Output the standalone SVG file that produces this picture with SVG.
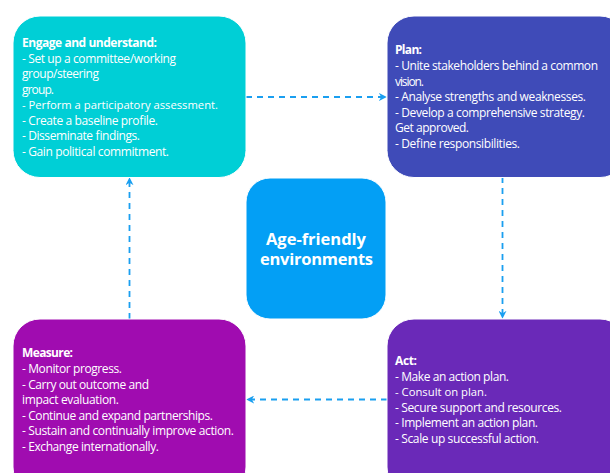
<svg xmlns="http://www.w3.org/2000/svg" width="610" height="473" viewBox="0 0 610 473">
  <defs>
    <style>
      .box { stroke: #ffffff; stroke-width: 1; }
      .txt { font-family: "Open Sans", "Noto Sans", "DejaVu Sans", sans-serif; font-size: 12px; fill: #ffffff; }
      .sm { font-size: 11px; }
      .ttl { font-weight: bold; }
      .ctr { font-family: "Open Sans", "Noto Sans", "DejaVu Sans", sans-serif; font-size: 16.5px; font-weight: bold; fill: #ffffff; }
      .link { fill: none; stroke: #1a9ff0; stroke-width: 1.8; stroke-dasharray: 6 5; }
    </style>
    <marker id="arrow" viewBox="0 0 10 10" refX="9" refY="5" markerWidth="8" markerHeight="8" markerUnits="userSpaceOnUse" orient="auto">
      <path d="M0,0 L10,5 L0,10 L3,5 Z" fill="#1a9ff0"/>
    </marker>
  </defs>

  <rect width="610" height="473" fill="#ffffff"/>

  <!-- connectors -->
  <g id="connectors">
    <line class="link" x1="246" y1="97" x2="386" y2="97" marker-end="url(#arrow)"/>
    <line class="link" x1="502.5" y1="177" x2="502.5" y2="318" marker-end="url(#arrow)"/>
    <line class="link" x1="387" y1="399.5" x2="247" y2="399.5" marker-end="url(#arrow)"/>
    <line class="link" x1="129.5" y1="319" x2="129.5" y2="178" marker-end="url(#arrow)"/>
  </g>

  <!-- Engage and understand -->
  <g id="engage">
    <rect class="box" x="13" y="16" width="233" height="161.5" rx="27" fill="#00cfd6"/>
    <text class="txt ttl" x="22" y="47" textLength="135">Engage and understand:</text>
    <text class="txt" x="22" y="62.5" textLength="154">- Set up a committee/working</text>
    <text class="txt" x="22" y="78" textLength="77">group/steering</text>
    <text class="txt" x="22" y="93.5" textLength="32">group.</text>
    <text class="txt sm" x="22" y="109" textLength="196" lengthAdjust="spacingAndGlyphs">- Perform a participatory assessment.</text>
    <text class="txt" x="22" y="124.5" textLength="136">- Create a baseline profile.</text>
    <text class="txt" x="22" y="140" textLength="118">- Disseminate findings.</text>
    <text class="txt" x="22" y="155.5" textLength="147">- Gain political commitment.</text>
  </g>

  <!-- Plan -->
  <g id="plan">
    <rect class="box" x="387" y="16" width="240" height="161.5" rx="27" fill="#3f4bb8"/>
    <text class="txt ttl" x="395" y="54" textLength="27">Plan:</text>
    <text class="txt" x="395" y="70" textLength="203">- Unite stakeholders behind a common</text>
    <text class="txt" x="395" y="85.5" textLength="29">vision.</text>
    <text class="txt" x="395" y="101" textLength="191">- Analyse strengths and weaknesses.</text>
    <text class="txt" x="395" y="116.5" textLength="190">- Develop a comprehensive strategy.</text>
    <text class="txt" x="395" y="132" textLength="74">Get approved.</text>
    <text class="txt" x="395" y="147.5" textLength="125">- Define responsibilities.</text>
  </g>

  <!-- centre -->
  <g id="centre">
    <rect class="box" x="246" y="178" width="140" height="141" rx="24" fill="#039ff5"/>
    <text class="ctr" x="266" y="245" textLength="100">Age-friendly</text>
    <text class="ctr" x="260" y="264.5" textLength="113">environments</text>
  </g>

  <!-- Measure -->
  <g id="measure">
    <rect class="box" x="13" y="319" width="233" height="175" rx="27" fill="#a00cb0"/>
    <text class="txt ttl" x="22" y="357" textLength="51">Measure:</text>
    <text class="txt" x="22" y="373" textLength="100">- Monitor progress.</text>
    <text class="txt" x="22" y="388.5" textLength="127">- Carry out outcome and</text>
    <text class="txt" x="22" y="404" textLength="97">impact evaluation.</text>
    <text class="txt" x="22" y="419.5" textLength="191">- Continue and expand partnerships.</text>
    <text class="txt" x="22" y="435" textLength="212">- Sustain and continually improve action.</text>
    <text class="txt" x="22" y="450.5" textLength="137">- Exchange internationally.</text>
  </g>

  <!-- Act -->
  <g id="act">
    <rect class="box" x="387" y="319" width="240" height="175" rx="27" fill="#6a29b8"/>
    <text class="txt ttl" x="395" y="365" textLength="22">Act:</text>
    <text class="txt" x="395" y="380.5" textLength="114">- Make an action plan.</text>
    <text class="txt sm" x="395" y="396" textLength="92" lengthAdjust="spacingAndGlyphs">- Consult on plan.</text>
    <text class="txt" x="395" y="411.5" textLength="167">- Secure support and resources.</text>
    <text class="txt" x="395" y="427" textLength="143">- Implement an action plan.</text>
    <text class="txt" x="395" y="442.5" textLength="144">- Scale up successful action.</text>
  </g>
</svg>
